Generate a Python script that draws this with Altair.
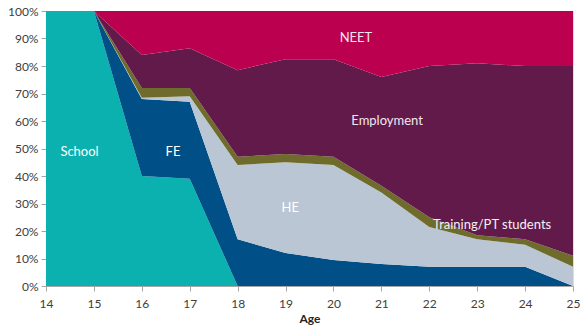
import altair as alt
import pandas as pd

ages = [14, 15, 16, 17, 18, 19, 20, 21, 22, 23, 24, 25]
series = ["School", "FE", "HE", "Training/PT students", "Employment", "NEET"]
colors = ["#0BB1AF", "#004F86", "#BAC6D3", "#6E6B2B", "#621A4B", "#BC0050"]
pct_ticks = [0, 10, 20, 30, 40, 50, 60, 70, 80, 90, 100]

school = [100, 100, 40, 39, 0, 0, 0, 0, 0, 0, 0, 0]
fe = [0, 0, 28, 28, 17, 12, 9.5, 8, 7, 7, 7, 0]
he = [0, 0, 0.5, 2, 27, 33, 34.5, 26, 14.5, 10, 8, 7]
training = [0, 0, 3.5, 3, 3, 3, 3, 2.5, 3.5, 1.5, 2, 4]
employment = [0, 0, 12, 14.5, 31.5, 34.5, 35.5, 39.5, 55, 62.5, 63, 69]
neet = [0, 0, 16, 13.5, 21.5, 17.5, 17.5, 24, 20, 19, 20, 20]

label_text = ["School", "FE", "HE", "Employment", "NEET", "Training/PT students"]
label_age = [14.7, 16.65, 19.1, 21.12, 20.47, 23.31]
label_pct = [48.7, 48.7, 28.4, 60, 90.2, 22.2]
label_color = ["#FFFFFF", "#FFFFFF", "#FFFFFF", "#F2E6EE", "#F2E6EE", "#F2F2F2"]

rows = []
for name, vals in zip(series, [school, fe, he, training, employment, neet]):
    for a, v in zip(ages, vals):
        rows.append({"age": a, "series": name, "value": v, "order": series.index(name)})
df = pd.DataFrame(rows)

labels = pd.DataFrame({"text": label_text, "age": label_age, "pct": label_pct, "col": label_color})

xscale = alt.Scale(domain=[14, 25], nice=False, zero=False)
yscale = alt.Scale(domain=[0, 100], nice=False)

x_axis = alt.Axis(values=ages, format="d", grid=False, domainColor="#A6A6A6",
                  tickColor="#A6A6A6", tickSize=5, labelFont="Lato", labelFontSize=12,
                  labelColor="#404040", labelPadding=7, labelFlush=False,
                  labelOverlap=False, titleFont="Lato",
                  titleFontSize=12, titleFontWeight="bold", titleColor="#262626",
                  titlePadding=4)
y_axis = alt.Axis(values=pct_ticks, labelExpr="datum.value + '%'", grid=False,
                  domainColor="#A6A6A6", tickColor="#A6A6A6", tickSize=5,
                  labelFont="Lato", labelFontSize=12, labelColor="#404040",
                  labelPadding=3, labelOverlap=False, labelFlush=False)

area = alt.Chart(df).mark_area(interpolate="linear", opacity=1).encode(
    x=alt.X("age:Q", scale=xscale, title="Age", axis=x_axis),
    y=alt.Y("value:Q", stack="zero", scale=yscale, title=None, axis=y_axis),
    color=alt.Color("series:N", scale=alt.Scale(domain=series, range=colors), legend=None),
    order=alt.Order("order:Q", sort="ascending"),
)

text = alt.Chart(labels).mark_text(font="Lato", fontSize=13, align="center", baseline="middle").encode(
    x=alt.X("age:Q", scale=xscale, title="Age", axis=x_axis),
    y=alt.Y("pct:Q", scale=yscale, title=None, axis=y_axis),
    text="text:N",
    color=alt.Color("col:N", scale=None),
)

chart = alt.layer(area, text).properties(
    width=527, height=275,
    autosize=alt.AutoSizeParams(type="none"),
    padding={"left": 46, "top": 11, "right": 15, "bottom": 49},
).configure_view(stroke=None).configure(background="white")

chart.save("out.html", embed_options={"renderer": "svg", "actions": False})
